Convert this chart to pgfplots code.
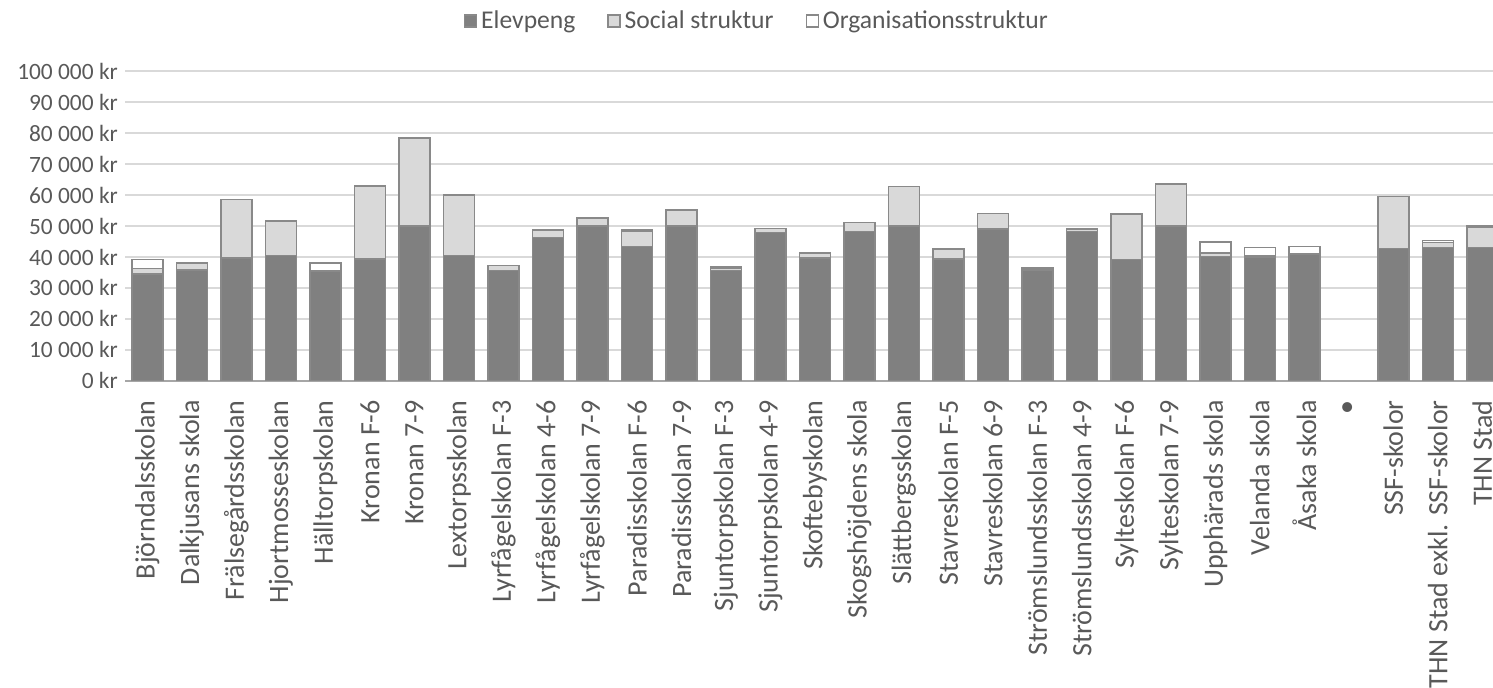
\documentclass[border=0pt]{standalone}
\usepackage{fontspec}
\setmainfont{Carlito}
\usepackage{pgfplots}
\pgfplotsset{compat=1.18}
\definecolor{txt}{HTML}{595959}
\definecolor{dark}{HTML}{808080}
\definecolor{light}{HTML}{D9D9D9}
\definecolor{edge}{HTML}{898989}
\definecolor{gridc}{HTML}{D9D9D9}
\definecolor{axc}{HTML}{A6A6A6}
\begin{document}
\begin{tikzpicture}
\begin{axis}[
  scale only axis,
  width=684pt, height=155pt,
  xmin=-0.5, xmax=30.24,
  ymin=0, ymax=100000,
  scaled y ticks=false,
  ybar stacked,
  bar width=15.5pt,
  axis x line=bottom, axis y line=left,
  x axis line style={-, draw=axc, line width=0.9pt},
  y axis line style={draw=none},
  major tick length=0pt,
  ymajorgrids,
  grid style={draw=gridc, line width=0.6pt},
  ytick={0,10000,20000,30000,40000,50000,60000,70000,80000,90000,100000},
  yticklabels={0 kr,10 000 kr,20 000 kr,30 000 kr,40 000 kr,50 000 kr,60 000 kr,70 000 kr,80 000 kr,90 000 kr,100 000 kr},
  yticklabel style={font=\fontsize{11.7}{13}\selectfont, text=txt, inner xsep=3.5pt},
  xtick={0,...,30},
  xticklabels={Björndalsskolan,Dalkjusans skola,Frälsegårdsskolan,Hjortmosseskolan,Hälltorpskolan,Kronan F-6,Kronan 7-9,Lextorpsskolan,Lyrfågelskolan F-3,Lyrfågelskolan 4-6,Lyrfågelskolan 7-9,Paradisskolan F-6,Paradisskolan 7-9,Sjuntorpskolan F-3,Sjuntorpskolan 4-9,Skoftebyskolan,Skogshöjdens skola,Slättbergsskolan,Stavreskolan F-5,Stavreskolan 6-9,Strömslundsskolan F-3,Strömslundsskolan 4-9,Sylteskolan F-6,Sylteskolan 7-9,Upphärads skola,Velanda skola,Åsaka skola,•,SSF-skolor,THN Stad exkl. SSF-skolor,THN Stad},
  xticklabel style={rotate=90, anchor=east, font=\fontsize{14}{16}\selectfont, text=txt, inner xsep=9.5pt, inner ysep=0pt},
  legend style={at={(0.4626,1.161)}, anchor=center, draw=none, fill=none,
    legend columns=3, font=\fontsize{12.8}{14}\selectfont, text=txt,
    /tikz/every even column/.append style={column sep=14pt},
    inner sep=0pt},
  legend image code/.code={\draw[#1, line width=0.6pt] (0pt,-3pt) rectangle (6pt,3pt);},
]
\addplot[fill=dark, draw=edge, line width=0.75pt] coordinates {
(0,34500) (1,35800) (2,39600) (3,40400) (4,35500) (5,39400) (6,50000) (7,40400)
(8,35600) (9,46300) (10,50000) (11,43300) (12,50000) (13,35600) (14,47900) (15,39700)
(16,48200) (17,50000) (18,39400) (19,49100) (20,35800) (21,48200) (22,39200) (23,50000)
(24,40100) (25,39900) (26,41000) (28,42800) (29,43000) (30,43000)};
\addplot[fill=light, draw=edge, line width=0.75pt] coordinates {
(0,1800) (1,2200) (2,19000) (3,11200) (4,0) (5,23500) (6,28400) (7,19600)
(8,1600) (9,2400) (10,2500) (11,5100) (12,5200) (13,700) (14,1300) (15,1500)
(16,2900) (17,12700) (18,3100) (19,5000) (20,700) (21,800) (22,14700) (23,13500)
(24,1100) (25,400) (26,0) (28,16700) (29,1700) (30,6500)};
\addplot[fill=white, draw=edge, line width=0.75pt] coordinates {
(0,2900) (1,0) (2,0) (3,0) (4,2500) (5,0) (6,0) (7,0)
(8,0) (9,0) (10,0) (11,500) (12,0) (13,400) (14,0) (15,0)
(16,0) (17,0) (18,0) (19,0) (20,0) (21,0) (22,0) (23,0)
(24,3600) (25,2700) (26,2300) (28,0) (29,600) (30,500)};
\legend{Elevpeng,Social struktur,Organisationsstruktur}
\coordinate (bl) at (rel axis cs:0,0);
\coordinate (tr) at (rel axis cs:1,1);
\end{axis}
\pgfresetboundingbox
\path ([xshift=-62.6pt,yshift=-153.5pt]bl) rectangle ([yshift=35.5pt]tr);
\end{tikzpicture}
\end{document}
